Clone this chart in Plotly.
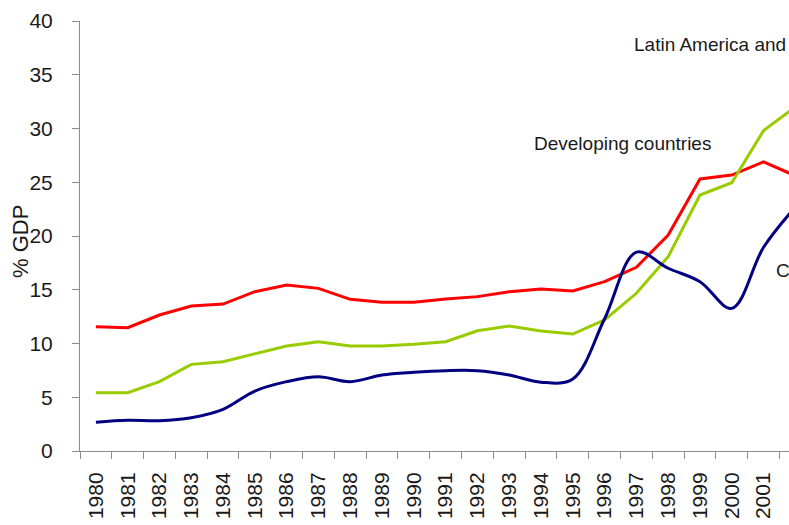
import plotly.graph_objects as go

years = [str(y) for y in range(1980, 2003)]
developing = [11.55, 11.47, 12.65, 13.49, 13.67, 14.82, 15.44, 15.13, 14.11, 13.83, 13.83,
              14.14, 14.36, 14.82, 15.07, 14.88, 15.75, 17.09, 20.09, 25.3, 25.67, 26.9, 25.6]
latin_america = [5.43, 5.43, 6.45, 8.06, 8.31, 9.02, 9.77, 10.17, 9.77, 9.77, 9.92,
                 10.17, 11.19, 11.63, 11.16, 10.88, 12.2, 14.67, 18.08, 23.81, 24.96, 29.8, 32.0]
china = [2.67, 2.85, 2.82, 3.1, 3.88, 5.58, 6.45, 6.91, 6.45, 7.07, 7.32,
         7.47, 7.47, 7.07, 6.4, 6.7, 12.3, 18.5, 17.0, 15.75, 13.27, 18.95, 22.7]
y_ticks = [0, 5, 10, 15, 20, 25, 30, 35, 40]
labels = ["Latin America and", "Developing countries", "C"]

FONT = "Liberation Sans, Arial, sans-serif"
AXIS_COL = "#8c8c8c"
TXT = "#1a1a1a"

fig = go.Figure()
fig.add_trace(go.Scatter(x=years, y=developing, mode="lines", name="Developing countries",
                         line=dict(color="#ff0000", width=3)))
fig.add_trace(go.Scatter(x=years, y=latin_america, mode="lines", name="Latin America and Caribbean",
                         line=dict(color="#99cc00", width=3)))
fig.add_trace(go.Scatter(x=years, y=china, mode="lines", name="China",
                         line=dict(color="#000080", width=3, shape="spline", smoothing=1)))

fig.update_layout(
    width=789, height=525,
    margin=dict(l=80, r=0, t=21, b=74),
    paper_bgcolor="white", plot_bgcolor="white",
    showlegend=False,
    font=dict(family=FONT, color=TXT),
)
fig.update_xaxes(
    type="category", range=[-0.5, 21.8], automargin=False,
    tickson="boundaries", ticks="outside", ticklen=7, tickcolor=AXIS_COL,
    showline=True, linecolor=AXIS_COL, linewidth=1,
    showgrid=False, zeroline=False,
    tickangle=-90, tickfont=dict(size=21, family=FONT, color=TXT),
    ticklabelstandoff=12,
)
fig.update_yaxes(
    range=[0, 40], tickvals=y_ticks, ticktext=[str(v) for v in y_ticks], automargin=False,
    ticks="outside", ticklen=7, tickcolor=AXIS_COL,
    showline=True, linecolor=AXIS_COL, linewidth=1,
    showgrid=False, zeroline=False,
    tickfont=dict(size=21, family=FONT, color=TXT),
    ticklabelstandoff=15,
)

ann_font = dict(size=19, family=FONT, color=TXT)
fig.add_annotation(text="% GDP", textangle=-90, xref="paper", yref="paper",
                   x=(20 - 80) / 709, y=(451 - 242) / 430, xanchor="center", yanchor="middle",
                   showarrow=False, font=dict(size=22, family=FONT, color=TXT))
fig.add_annotation(text=labels[0], xref="paper", yref="y",
                   x=(788 - 80) / 709, y=37.86, xanchor="right", yanchor="middle",
                   showarrow=False, font=ann_font)
fig.add_annotation(text=labels[1], xref="paper", yref="y",
                   x=(532 - 80) / 709, y=28.56, xanchor="left", yanchor="middle",
                   showarrow=False, font=ann_font)
fig.add_annotation(text=labels[2], xref="paper", yref="y",
                   x=(774 - 80) / 709, y=16.79, xanchor="left", yanchor="middle",
                   showarrow=False, font=ann_font)

fig.write_html("out.html", config={"displayModeBar": False},
               post_script="document.body.style.margin='0px';document.body.style.overflow='hidden';")
